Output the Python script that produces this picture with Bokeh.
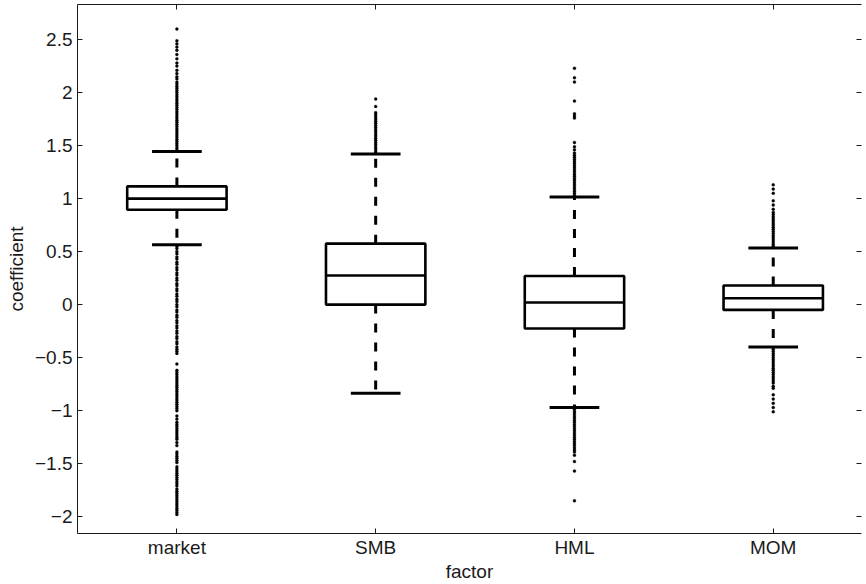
from bokeh.plotting import figure
from bokeh.models import (FixedTicker, LinearAxis, Range1d, ColumnDataSource,
                          CustomLabelingPolicy)
from bokeh.embed import file_html
from bokeh.resources import INLINE

# ---------------- data ----------------
categories = ["market", "SMB", "HML", "MOM"]
positions = [1, 2, 3, 4]

q1 = [0.895, 0.0, -0.225, -0.05]
median = [1.0, 0.275, 0.02, 0.06]
q3 = [1.115, 0.575, 0.27, 0.18]
lower_whisker = [0.565, -0.835, -0.97, -0.40]
upper_whisker = [1.445, 1.42, 1.015, 0.535]

market_outliers = [
    1.46, 1.48, 1.50, 1.52, 1.54, 1.56, 1.58, 1.60, 1.62, 1.64, 1.66, 1.68,
    1.70, 1.72, 1.74, 1.76, 1.78, 1.80, 1.82, 1.84, 1.86, 1.88, 1.90, 1.92,
    1.94, 1.96, 1.98, 2.00, 2.02, 2.04, 2.06, 2.08, 2.10, 2.13, 2.15, 2.18,
    2.21, 2.25, 2.28, 2.32, 2.36, 2.40, 2.43, 2.46, 2.49, 2.60,
    0.55, 0.53, 0.50, 0.48, 0.45, 0.43, 0.40, 0.38, 0.35, 0.33, 0.30, 0.28,
    0.25, 0.23, 0.20, 0.18, 0.15, 0.13, 0.10, 0.08, 0.05, 0.03, 0.00, -0.02,
    -0.05, -0.07, -0.10, -0.12, -0.15, -0.17, -0.20, -0.22, -0.25, -0.27,
    -0.30, -0.32, -0.35, -0.37, -0.40, -0.42, -0.44, -0.46,
    -0.56,
    -0.62, -0.64, -0.66, -0.68, -0.70, -0.72, -0.74, -0.76, -0.78, -0.80,
    -0.82, -0.84, -0.86, -0.88, -0.90, -0.92, -0.94, -0.96, -0.98, -1.00,
    -1.05, -1.08, -1.11, -1.13, -1.15, -1.17, -1.19, -1.21, -1.23, -1.25,
    -1.27, -1.30, -1.33, -1.39, -1.41, -1.43, -1.45, -1.47, -1.49,
    -1.53, -1.55, -1.57, -1.59, -1.61, -1.63, -1.65, -1.67, -1.69, -1.71,
    -1.74, -1.76, -1.78, -1.80, -1.82, -1.84, -1.86, -1.88, -1.90, -1.92,
    -1.94, -1.96, -1.98,
]
smb_outliers = [
    1.43, 1.45, 1.47, 1.49, 1.51, 1.53, 1.55, 1.57, 1.59, 1.61, 1.63, 1.65,
    1.67, 1.69, 1.71, 1.73, 1.75, 1.77, 1.79, 1.81, 1.87, 1.94,
]
hml_outliers = [
    1.03, 1.05, 1.07, 1.09, 1.11, 1.13, 1.15, 1.17, 1.19, 1.21, 1.23, 1.25,
    1.27, 1.29, 1.31, 1.33, 1.35, 1.37, 1.39, 1.41, 1.43, 1.46, 1.49, 1.53,
    1.76, 1.78, 1.80, 1.92, 2.10, 2.14, 2.23,
    -0.99, -1.01, -1.03, -1.05, -1.07, -1.09, -1.11, -1.13, -1.15, -1.17,
    -1.19, -1.21, -1.23, -1.25, -1.27, -1.29, -1.31, -1.33, -1.35, -1.37,
    -1.39, -1.42, -1.48, -1.57, -1.85,
]
mom_outliers = [
    0.55, 0.57, 0.59, 0.61, 0.63, 0.65, 0.67, 0.69, 0.71, 0.73, 0.75, 0.77,
    0.79, 0.81, 0.83, 0.85, 0.87, 0.90, 0.94, 0.98, 1.05, 1.09, 1.13,
    -0.42, -0.44, -0.46, -0.48, -0.50, -0.52, -0.54, -0.56, -0.58, -0.60,
    -0.62, -0.64, -0.66, -0.68, -0.70, -0.72, -0.74, -0.77, -0.79,
    -0.85, -0.89, -0.93, -0.97, -1.01,
]
outliers = [market_outliers, smb_outliers, hml_outliers, mom_outliers]

y_ticks = [-2, -1.5, -1, -0.5, 0, 0.5, 1, 1.5, 2, 2.5]
y_tick_labels = ["\u22122", "\u22121.5", "\u22121", "\u22120.5", "0", "0.5", "1", "1.5", "2", "2.5"]
x_label = "factor"
y_label = "coefficient"

# ---------------- styling ----------------
FONT = "Liberation Sans"
FS = "19px"
AX = "#1a1a1a"
BOX_W = 0.5
CAP_W = 0.25

p = figure(width=866, height=584, output_backend="svg", toolbar_location=None,
           x_range=Range1d(0.5, 4.444), y_range=Range1d(-2.159, 2.831),
           min_border_left=77, min_border_right=0, min_border_top=4,
           min_border_bottom=49)
p.outline_line_color = None
p.xgrid.grid_line_color = None
p.ygrid.grid_line_color = None
p.background_fill_color = "white"
p.border_fill_color = "white"

box_src = ColumnDataSource(dict(
    x=positions,
    left=[x - BOX_W / 2 for x in positions],
    right=[x + BOX_W / 2 for x in positions],
    cl=[x - CAP_W / 2 for x in positions],
    cr=[x + CAP_W / 2 for x in positions],
    q1=q1, q3=q3, med=median, lo=lower_whisker, hi=upper_whisker,
))

# whiskers (dashed)
p.segment(x0="x", x1="x", y0="q3", y1="hi", source=box_src,
          line_color="black", line_width=3, line_dash="9 10")
p.segment(x0="x", x1="x", y0="q1", y1="lo", source=box_src,
          line_color="black", line_width=3, line_dash="9 10")
# caps
p.segment(x0="cl", x1="cr", y0="hi", y1="hi", source=box_src,
          line_color="black", line_width=3)
p.segment(x0="cl", x1="cr", y0="lo", y1="lo", source=box_src,
          line_color="black", line_width=3)

# outliers
ox, oy = [], []
for pos, vals in zip(positions, outliers):
    ox += [pos] * len(vals)
    oy += vals
p.scatter(x=ox, y=oy, marker="circle", size=3, fill_color="black",
          line_color="black", line_width=0.3)

# boxes + medians
p.quad(left="left", right="right", bottom="q1", top="q3", source=box_src,
       fill_color=None, line_color="black", line_width=2.6)
p.segment(x0="left", x1="right", y0="med", y1="med", source=box_src,
          line_color="black", line_width=2.6)

hide_all = CustomLabelingPolicy(code="""
    for (const i of indices) { indices.unset(i) }
    return indices
""")

def style_axis(ax, show_labels=True, show_line=True):
    ax.major_tick_in = 5
    ax.major_tick_out = 0
    ax.minor_tick_line_color = None
    ax.major_tick_line_color = AX
    ax.axis_line_color = AX if show_line else None
    ax.major_label_text_font = FONT
    ax.major_label_text_color = AX
    ax.axis_label_text_font = FONT
    ax.axis_label_text_font_style = "normal"
    ax.axis_label_text_color = AX
    if show_labels:
        ax.major_label_text_font_size = FS
        ax.axis_label_text_font_size = FS
    else:
        ax.major_label_text_font_size = "1px"
        ax.major_label_standoff = 0
        ax.major_label_policy = hide_all

xax = p.xaxis[0]
xax.ticker = FixedTicker(ticks=positions)
xax.major_label_overrides = {pos: name for pos, name in zip(positions, categories)}
xax.axis_label = x_label
style_axis(xax)
xax.major_label_standoff = 3
xax.axis_label_standoff = 0

yax = p.yaxis[0]
yax.ticker = FixedTicker(ticks=y_ticks)
yax.major_label_overrides = {t: s for t, s in zip(y_ticks, y_tick_labels)}
yax.axis_label = y_label
style_axis(yax)
yax.major_label_standoff = 5
yax.axis_label_standoff = 5

top = LinearAxis(ticker=FixedTicker(ticks=positions))
style_axis(top, show_labels=False)
p.add_layout(top, "above")

right = LinearAxis(ticker=FixedTicker(ticks=y_ticks))
style_axis(right, show_labels=False, show_line=False)
p.add_layout(right, "right")

open("out.html", "w").write(file_html(p, INLINE))
